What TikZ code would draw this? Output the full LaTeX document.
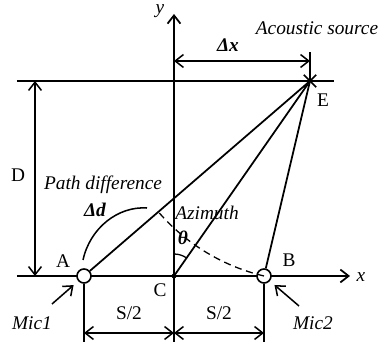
\documentclass[tikz,border=0pt]{standalone}
\usepackage{fontspec}
\setmainfont{Liberation Serif}
\usetikzlibrary{arrows.meta, positioning, shapes.misc, calc}
\newcommand{\lblsize}{\fontsize{16.5}{19}\selectfont}
\tikzset{
    font=\lblsize,
    >={Straight Barb[length=7pt, width=11pt]},
    % Lines
    axis/.style={->, line width=1.5pt},
    ray/.style={line width=1.5pt},
    dim/.style={<->, line width=1.3pt},
    ext/.style={line width=1.3pt},
    pointer/.style={->, line width=1.3pt, shorten >=1.8mm},
    % Shapes
    mic/.style={circle, draw, line width=1.4pt, fill=white, minimum size=4.2mm, inner sep=0pt},
    src/.style={cross out, draw, line width=1.5pt, minimum size=3.2mm, inner sep=0pt},
    % Labels
    lbl/.style={inner sep=1pt, font=\lblsize},
    ital/.style={inner sep=1pt, font=\lblsize\itshape},
    bold/.style={inner sep=1pt, font=\lblsize\bfseries\itshape}
}

\begin{document}
\begin{tikzpicture}[x=0.3mm, y=0.3mm]

\useasboundingbox (-174,-66) rectangle (210,276);

% axes and the source line
\coordinate (C) at (0,0);
\coordinate (xl) at (-157,0);
\coordinate (xr) at (176,0);
\coordinate (yb) at (0,-66);
\coordinate (yt) at (0,262);
\coordinate (tl) at (-157,195);
\coordinate (tr) at (160,195);
\draw[axis] (xl) -- (xr);
\draw[axis] (yb) -- (yt);
\draw[ray] (tl) -- (tr);
\fill (C) circle[radius=2.4];

% microphones and source
\node[mic] (A) at (-90,0) {};
\node[mic] (B) at (90,0) {};
\node[src] (E) at (136,195) {};

\draw[ray] (A) -- (E.center);
\draw[ray] (C) -- (E.center);
\draw[ray] (B) -- (E.center);

% equal path arc and azimuth angle
\draw[dashed, dash pattern=on 6pt off 4pt, line width=1.1pt] (B.center) arc[start angle=256.7, end angle=221, radius=200.35];
\draw[line width=1.1pt] (0,22) arc[start angle=90, end angle=55, radius=22];

% dimensions
\coordinate (dxl) at (0,215);
\coordinate (dxr) at (136,215);
\coordinate (Et) at (136,224);
\draw[ext] (E.center) -- (Et);
\draw[dim] (dxl) -- (dxr);

\coordinate (Dt) at (-139,195);
\coordinate (Db) at (-139,0);
\draw[dim] (Dt) -- (Db);

\coordinate (Ab) at (-90,-66);
\coordinate (Bb) at (90,-66);
\draw[ext] (A) -- (Ab);
\draw[ext] (B) -- (Bb);
\coordinate (s1) at (-90,-57);
\coordinate (s2) at (0,-57);
\coordinate (s3) at (90,-57);
\draw[dim] (s1) -- (s2);
\draw[dim] (s2) -- (s3);

% mic pointers
\coordinate (m1) at (-122,-28);
\coordinate (m2) at (125,-30);
\draw[pointer] (m1) -- (A);
\draw[pointer] (m2) -- (B);

% path difference brace
\coordinate (pd1) at (-91,16);
\coordinate (pd2) at (-27,68);
\draw[line width=1.3pt] (pd1) .. controls (-84,48) and (-56,70) .. (pd2);

% labels
\node[ital] (ylbl) at (-14,265) {y};
\node[ital] (xlbl) at (187,-1) {x};
\node[lbl] (Albl) at (-111,15) {A};
\node[lbl] (Blbl) at (115,16) {B};
\node[lbl] (Clbl) at (-14,-14) {C};
\node[lbl] (Elbl) at (149,176) {E};
\node[lbl] (Dlbl) at (-156,101) {D};
\node[lbl] (s1lbl) at (-45,-37) {S/2};
\node[lbl] (s2lbl) at (45,-37) {S/2};
\node[ital] (mic1) at (-142,-47) {Mic1};
\node[ital] (mic2) at (139,-47) {Mic2};
\node[ital] (srclbl) at (143,248) {Acoustic source};
\node[bold] (dxlbl) at (54,231) {Δx};
\node[ital] (pdlbl) at (-71,91) {Path difference};
\node[bold] (ddlbl) at (-79,66) {Δd};
\node[ital] (azlbl) at (33,63) {Azimuth};
\node[bold] (thlbl) at (9,38) {θ};

\end{tikzpicture}
\end{document}
